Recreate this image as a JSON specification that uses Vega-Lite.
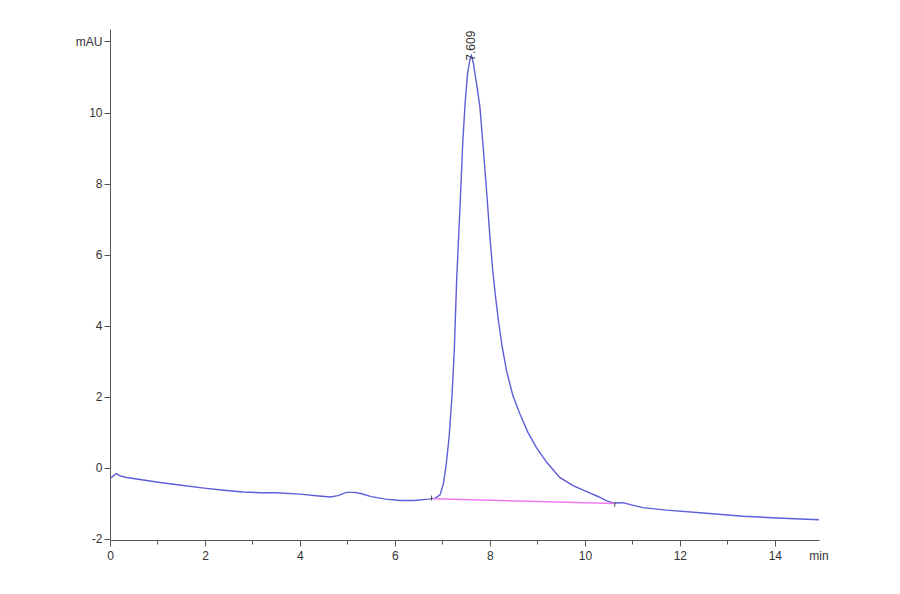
{
  "$schema": "https://vega.github.io/schema/vega-lite/v6.json",
  "width": 709,
  "height": 511,
  "autosize": {"type": "none"},
  "padding": {"left": 110, "top": 29, "right": 81, "bottom": 54},
  "background": "white",
  "config": {
    "view": {"stroke": null},
    "font": "Liberation Sans",
    "axis": {
      "domainColor": "#555555",
      "tickColor": "#555555",
      "labelColor": "#333333",
      "labelFont": "Liberation Sans",
      "labelFontSize": 12,
      "grid": false,
      "labelOverlap": false,
      "labelFlush": false,
      "title": null
    }
  },
  "datasets": {
    "signal": [
      {"t": 0.00, "v": -0.30}, {"t": 0.06, "v": -0.24}, {"t": 0.13, "v": -0.16}, {"t": 0.20, "v": -0.22},
      {"t": 0.35, "v": -0.27}, {"t": 0.70, "v": -0.34}, {"t": 1.05, "v": -0.41}, {"t": 1.50, "v": -0.49},
      {"t": 1.98, "v": -0.57}, {"t": 2.40, "v": -0.63}, {"t": 2.80, "v": -0.68}, {"t": 3.20, "v": -0.70},
      {"t": 3.51, "v": -0.70}, {"t": 4.00, "v": -0.74}, {"t": 4.40, "v": -0.79}, {"t": 4.65, "v": -0.82},
      {"t": 4.80, "v": -0.78}, {"t": 4.98, "v": -0.69}, {"t": 5.15, "v": -0.69}, {"t": 5.30, "v": -0.73},
      {"t": 5.50, "v": -0.81}, {"t": 5.80, "v": -0.88}, {"t": 6.10, "v": -0.92}, {"t": 6.40, "v": -0.92},
      {"t": 6.70, "v": -0.88}, {"t": 6.85, "v": -0.85}, {"t": 6.95, "v": -0.76}, {"t": 7.02, "v": -0.45},
      {"t": 7.08, "v": 0.10}, {"t": 7.14, "v": 0.85}, {"t": 7.20, "v": 2.00}, {"t": 7.25, "v": 3.30},
      {"t": 7.30, "v": 5.30}, {"t": 7.37, "v": 7.33}, {"t": 7.43, "v": 9.20}, {"t": 7.48, "v": 10.30},
      {"t": 7.53, "v": 11.10}, {"t": 7.58, "v": 11.50}, {"t": 7.609, "v": 11.60}, {"t": 7.65, "v": 11.40},
      {"t": 7.72, "v": 10.80}, {"t": 7.79, "v": 10.15}, {"t": 7.86, "v": 9.00}, {"t": 7.93, "v": 7.80},
      {"t": 8.00, "v": 6.50}, {"t": 8.06, "v": 5.55}, {"t": 8.12, "v": 4.80}, {"t": 8.18, "v": 4.14},
      {"t": 8.26, "v": 3.40}, {"t": 8.35, "v": 2.73}, {"t": 8.48, "v": 2.05}, {"t": 8.63, "v": 1.52},
      {"t": 8.80, "v": 1.00}, {"t": 8.98, "v": 0.57}, {"t": 9.20, "v": 0.15}, {"t": 9.47, "v": -0.27},
      {"t": 9.75, "v": -0.50}, {"t": 10.04, "v": -0.67}, {"t": 10.30, "v": -0.82}, {"t": 10.46, "v": -0.93},
      {"t": 10.60, "v": -0.99}, {"t": 10.80, "v": -0.98}, {"t": 11.00, "v": -1.05}, {"t": 11.22, "v": -1.12},
      {"t": 11.72, "v": -1.19}, {"t": 12.49, "v": -1.27}, {"t": 13.33, "v": -1.36}, {"t": 14.04, "v": -1.41},
      {"t": 14.93, "v": -1.46}
    ],
    "baseline": [
      {"t": 6.80, "v": -0.87},
      {"t": 10.62, "v": -1.00}
    ],
    "events": [
      {"t": 6.77, "v1": -0.78, "v2": -0.92},
      {"t": 10.63, "v1": -0.96, "v2": -1.10}
    ],
    "peaks": [
      {"t": 7.609, "v": 11.60, "label": "7.609"}
    ],
    "units": [
      {"t": 14.93, "v": -2.03, "label": "min"}
    ]
  },
  "layer": [
    {
      "data": {"name": "signal"},
      "mark": {"type": "line", "color": "#5e5ed8", "strokeWidth": 1.4, "clip": true},
      "encoding": {
        "x": {
          "field": "t", "type": "quantitative",
          "scale": {"domain": [0, 14.93], "nice": false, "zero": false},
          "axis": {
            "values": [0, 0.5, 1, 1.5, 2, 2.5, 3, 3.5, 4, 4.5, 5, 5.5, 6, 6.5, 7, 7.5, 8, 8.5, 9, 9.5, 10, 10.5, 11, 11.5, 12, 12.5, 13, 13.5, 14, 14.5],
            "labelExpr": "datum.value % 2 == 0 ? ('' + datum.value) : ''",
            "tickSize": {"condition": {"test": "datum.value % 2 == 0", "value": 6}, "value": 4},
            "labelPadding": 4
          }
        },
        "y": {
          "field": "v", "type": "quantitative",
          "scale": {"domain": [-2.03, 12.35], "nice": false, "zero": false},
          "axis": {
            "values": [-2, -1.5, -1, -0.5, 0, 0.5, 1, 1.5, 2, 2.5, 3, 3.5, 4, 4.5, 5, 5.5, 6, 6.5, 7, 7.5, 8, 8.5, 9, 9.5, 10, 10.5, 11, 11.5, 12],
            "labelExpr": "datum.value == 12 ? 'mAU' : (datum.value % 2 == 0 ? ('' + datum.value) : '')",
            "tickSize": {"condition": {"test": "datum.value % 2 == 0", "value": 6}, "value": 4},
            "labelPadding": 2
          }
        }
      }
    },
    {
      "data": {"name": "baseline"},
      "mark": {"type": "line", "color": "#f07af0", "strokeWidth": 1.5},
      "encoding": {
        "x": {"field": "t", "type": "quantitative"},
        "y": {"field": "v", "type": "quantitative"}
      }
    },
    {
      "data": {"name": "events"},
      "mark": {"type": "rule", "color": "#555555", "strokeWidth": 1},
      "encoding": {
        "x": {"field": "t", "type": "quantitative"},
        "y": {"field": "v1", "type": "quantitative"},
        "y2": {"field": "v2"}
      }
    },
    {
      "data": {"name": "peaks"},
      "mark": {"type": "text", "angle": 270, "align": "left", "baseline": "middle", "dx": -5, "fontSize": 12, "color": "#333333", "font": "Liberation Sans"},
      "encoding": {
        "x": {"field": "t", "type": "quantitative"},
        "y": {"field": "v", "type": "quantitative"},
        "text": {"field": "label"}
      }
    },
    {
      "data": {"name": "units"},
      "mark": {"type": "text", "align": "center", "baseline": "top", "dy": 11, "fontSize": 12, "color": "#333333", "font": "Liberation Sans"},
      "encoding": {
        "x": {"field": "t", "type": "quantitative"},
        "y": {"field": "v", "type": "quantitative"},
        "text": {"field": "label"}
      }
    }
  ]
}
